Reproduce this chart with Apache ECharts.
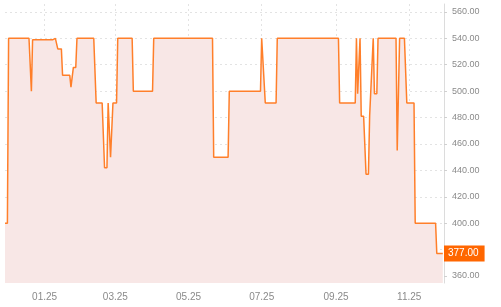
<!DOCTYPE html>
<html><head><meta charset="utf-8">
<script src="https://cdn.jsdelivr.net/npm/echarts@6/dist/echarts.min.js"></script>
<style>html,body{margin:0;padding:0;background:#fff}#c{width:501px;height:307px}</style>
</head><body><div id="c"></div>
<script>
const dates = [
'2024-11-29','2024-12-01','2024-12-02','2024-12-19','2024-12-21','2024-12-22',
'2025-01-08','2025-01-10','2025-01-11','2025-01-12','2025-01-15','2025-01-16',
'2025-01-22','2025-01-23','2025-01-25','2025-01-27','2025-01-28',
'2025-02-11','2025-02-13','2025-02-18','2025-02-20','2025-02-22','2025-02-23',
'2025-02-24','2025-02-25','2025-02-26','2025-02-27','2025-03-02','2025-03-03',
'2025-03-15','2025-03-16','2025-04-01','2025-04-02',
'2025-05-21','2025-05-22','2025-06-03','2025-06-04','2025-06-30','2025-07-01',
'2025-07-02','2025-07-04','2025-07-13','2025-07-14',
'2025-09-03','2025-09-04','2025-09-17','2025-09-18','2025-09-19','2025-09-20',
'2025-09-21','2025-09-22','2025-09-24','2025-09-26','2025-09-28','2025-09-29',
'2025-09-30','2025-10-02','2025-10-03','2025-10-05','2025-10-06',
'2025-10-21','2025-10-22','2025-10-23','2025-10-24','2025-10-28','2025-10-30',
'2025-11-05','2025-11-06','2025-11-23','2025-11-24','2025-11-29'
];
const prices = [
400,400,540,540,500,539,
539,540,540,532,532,512,
512,503,518,518,540,
540,491,491,442,442,491,
491,450,450,491,491,540,
540,500,500,540,
540,450,450,500,500,540,
540,491,491,540,
540,491,491,540,498,498,
540,481,481,437,437,481,
481,540,498,498,540,
540,455,455,540,540,491,
491,400,400,377,377
];
const tickDates = ['2025-01-01','2025-03-01','2025-05-01','2025-07-01','2025-09-01','2025-11-01'];
const tickLabels = ['01.25','03.25','05.25','07.25','09.25','11.25'];
const yTicks = [360,380,400,420,440,460,480,500,520,540,560];
const axisStart = '2024-11-29';
const axisEnd = '2025-11-30';

const toTs = s => { const p = s.split('-').map(Number); return Date.UTC(p[0], p[1]-1, p[2]); };
const tickTs = tickDates.map(toTs);
const lastPrice = prices[prices.length-1];

const chart = echarts.init(document.getElementById('c'), null, {renderer:'canvas'});
chart.setOption({
  animation:false,
  grid:{left:5, right:57, top:4, bottom:24, containLabel:false},
  xAxis:{
    type:'value', min:toTs(axisStart), max:toTs(axisEnd),
    axisLine:{show:false}, axisTick:{show:false, customValues:tickTs},
    axisLabel:{customValues:tickTs, color:'#8a8a8a', fontSize:10, fontFamily:'Liberation Sans, Arial', margin:9,
      formatter:v=>{ const i=tickTs.indexOf(v); return i>=0?tickLabels[i]:''; }},
    splitLine:{show:true, lineStyle:{color:'#e3e3e3', type:[2,3]}}
  },
  yAxis:{
    type:'value', position:'right', min:354.7, max:566,
    axisLine:{show:true, lineStyle:{color:'#dcdcdc'}},
    axisTick:{show:true, length:3, customValues:yTicks, lineStyle:{color:'#d0d0d0'}},
    axisLabel:{customValues:yTicks, color:'#8a8a8a', fontSize:9, fontFamily:'Liberation Sans, Arial', margin:8,
      formatter:v=>v.toFixed(2)},
    splitLine:{show:true, lineStyle:{color:'#e3e3e3', type:[2,3]}}
  },
  series:[{
    type:'line', symbol:'none',
    data:dates.map((d,i)=>[toTs(d), prices[i]]),
    lineStyle:{color:'#ff7f2a', width:1.5},
    areaStyle:{color:'#f8e7e6', opacity:1, origin:'start'},
    markLine:{
      silent:true, symbol:'none', animation:false,
      lineStyle:{color:'rgba(0,0,0,0)', width:0, type:'solid'},
      data:[{yAxis:lastPrice}],
      label:{show:true, position:'end', distance:0, formatter:()=>lastPrice.toFixed(2),
        backgroundColor:'#ff6600', color:'#fff', fontSize:10, fontFamily:'Liberation Sans, Arial',
        padding:[3,6,3,4]}
    }
  }]
});
</script></body></html>
